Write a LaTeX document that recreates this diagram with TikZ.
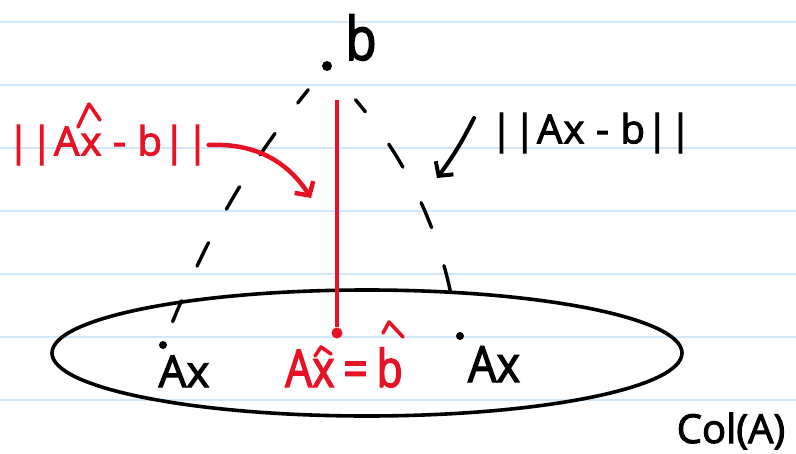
\documentclass[tikz,border=0pt]{standalone}
\usepackage{fontspec}
\setmainfont{Open Sans}[FakeBold=2.5]
\newfontfamily\handlbl{Open Sans}[FakeBold=2.5,LetterSpace=3,WordSpace=1]
\newfontfamily\handnarrow{Open Sans}[FakeBold=2.5,FakeStretch=0.82,WordSpace=0.8]
\newfontfamily\handax{Open Sans}[FakeBold=2.5,FakeStretch=0.9]
\newfontfamily\handb{Open Sans}[FakeBold=2.5,FakeStretch=0.85]
\usetikzlibrary{arrows.meta}
\definecolor{inkred}{RGB}{232,18,36}
\definecolor{rulecol}{RGB}{206,232,249}
\begin{document}
\begin{tikzpicture}[x=1pt,y=-1pt,
  ink/.style={line width=3.6pt,line cap=round,line join=round},
  dot/.style={circle,fill,inner sep=0pt,minimum size=#1},
  fs/.style={inner sep=0pt,font=\fontsize{#1}{#1}\selectfont},
  hat/.style={line width=3.6pt,line cap=round,line join=round},
]
\useasboundingbox[fill=white] (0,0) rectangle (796,453);
\foreach \y in {22,85,148,211,274,337,400}
  \draw[rulecol,line width=2pt] (0,\y) -- (796,\y);

% plane Col(A)
\draw[ink] (367,353) ellipse [x radius=315, y radius=63];

% points
\node[dot=10pt] (bdot) at (327,66) {};
\node[fs=60,anchor=base] (blbl) at (361,60) {\handb b};
\node[dot=8pt] (axl) at (163,345) {};
\node[dot=8pt] (axr) at (460,336) {};
\node[dot=11pt,inkred] (pt) at (337,333) {};

% labels
\node[fs=44,anchor=base] (axltxt) at (184,387) {Ax};
\node[fs=50,anchor=base] (axrtxt) at (494,382) {\handax Ax};
\node[fs=52,anchor=base,inkred] (proj) at (344,387) {\handnarrow Ax = b};
\node[fs=40,inkred] (redlbl) at (108,145) {\handlbl ||Ax - b||};
\node[fs=40] (blklbl) at (591,133) {\handlbl ||Ax - b||};
\node[fs=40,anchor=base] (col) at (731,443) {Col(A)};

% hats
\draw[hat,inkred] (78,127) -- (89,104) -- (100,120);
\draw[hat,inkred] (315,356) -- (321,347) -- (331,354);
\draw[hat,inkred] (383,333) -- (389,322) -- (403,337);

% distance segments
\draw[ink,line width=3.4pt,dash pattern=on 26pt off 38pt,dash phase=9pt,
      shorten <=25pt,shorten >=21pt] (bdot) to[bend right=8] (axl);
\draw[ink,line width=3.4pt,dash pattern=on 27pt off 40pt,
      shorten <=41pt,shorten >=39pt] (axr) to[bend right=14] (bdot);

% perpendicular
\coordinate (rtop) at (337,100);
\draw[inkred,line width=3.5pt] (rtop) -- (pt);

% arrows
\coordinate (rtip) at (311,198);
\draw[inkred,line width=4.5pt,line cap=round,
      -{Straight Barb[length=10pt,width=22pt]}] (redlbl.east) to[bend left=30] (rtip);
\coordinate (btail) at (474,118);
\coordinate (btip) at (437,178);
\draw[line width=4pt,line cap=round,
      -{Straight Barb[length=10pt,width=22pt]}] (btail) to[bend left=5] (btip);
\end{tikzpicture}
\end{document}
